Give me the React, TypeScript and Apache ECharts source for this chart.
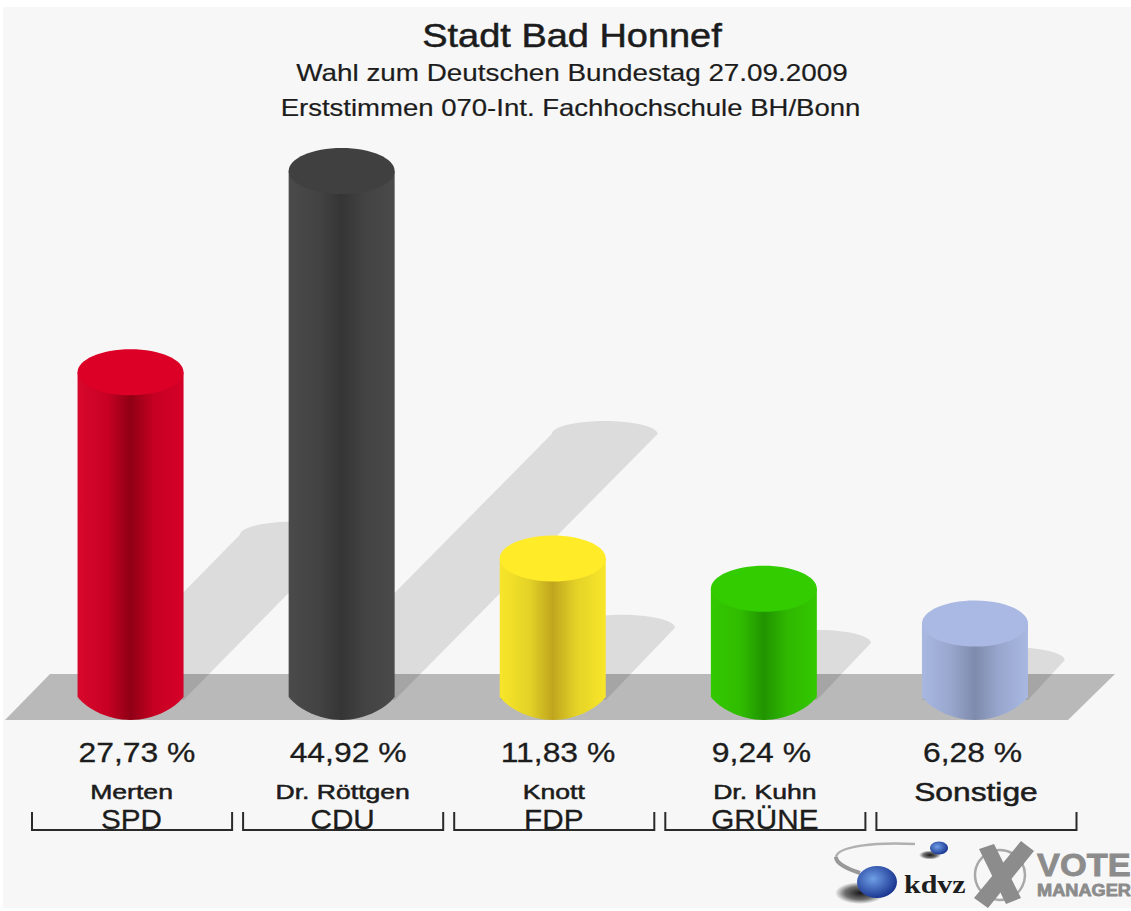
import React, { useEffect, useRef } from "react";
import * as echarts from "echarts";

const titleLines = ["Stadt Bad Honnef", "Wahl zum Deutschen Bundestag 27.09.2009", "Erststimmen 070-Int. Fachhochschule BH/Bonn"];
const candidates = ["Merten", "Dr. Röttgen", "Knott", "Dr. Kuhn", "Sonstige"];
const parties = ["SPD", "CDU", "FDP", "GRÜNE", ""];
const shares = [27.73, 44.92, 11.83, 9.24, 6.28];
const capColors = ["#dc0027", "#404040", "#ffeb28", "#33cc00", "#a9b9e3"];
const sideColors = [
  ["#d8082c", "#c80024", "#8f0015", "#c60022", "#d60028"],
  ["#4a4a4a", "#434343", "#353535", "#434343", "#4a4a4a"],
  ["#f8e62a", "#e4d227", "#bfa51e", "#e4d227", "#f8e62a"],
  ["#33c800", "#30bc00", "#219400", "#2fb800", "#33c800"],
  ["#a8b8e1", "#98a6cd", "#7e8bac", "#98a6cd", "#a8b8e1"],
];

const FONT = "Liberation Sans";
const RADIUS = 53;
const CAP_RY = 23;
const SHADOW_RY = 13;

function sideGradient(colors: string[]) {
  const stops = [0, 0.28, 0.5, 0.72, 1];
  return new echarts.graphic.LinearGradient(0, 0, 1, 0, colors.map((color, i) => ({ offset: stops[i], color })));
}

function bottomCurve(cx: number, yBase: number) {
  const pts: number[][] = [];
  for (let k = 0; k <= 24; k++) {
    const u = -1 + k / 12;
    pts.push([cx + u * RADIUS, yBase + CAP_RY * Math.pow(1 - u * u, 0.85)]);
  }
  return pts;
}

function renderShadow(params: any, api: any) {
  const [cx, yTop] = api.coord([api.value(0), api.value(1)]);
  const yBase = api.coord([api.value(0), 0])[1];
  const s = (yBase - yTop) / 2;
  const pts: number[][] = [[cx - RADIUS, yBase + 3]];
  for (let k = 0; k <= 24; k++) {
    const a = Math.PI - (k / 24) * Math.PI;
    pts.push([cx + s + RADIUS * Math.cos(a), yBase - s - SHADOW_RY * Math.sin(a)]);
  }
  pts.push([cx + RADIUS, yBase + 3]);
  return { type: "polygon", shape: { points: pts }, style: { fill: "rgba(0,0,0,0.105)" } };
}

function renderCylinder(params: any, api: any) {
  const i = params.dataIndex;
  const [cx, yTop] = api.coord([api.value(0), api.value(1)]);
  const yBase = api.coord([api.value(0), 0])[1];
  const pts = [[cx - RADIUS, yTop], ...bottomCurve(cx, yBase), [cx + RADIUS, yTop]];
  return {
    type: "group",
    children: [
      { type: "polygon", shape: { points: pts }, style: { fill: sideGradient(sideColors[i]) } },
      { type: "ellipse", shape: { cx, cy: yTop, rx: RADIUS, ry: CAP_RY }, style: { fill: capColors[i] } },
    ],
  };
}

function label(text: string, x: number, y: number, fontSize: number, scaleX: number, align = "center", weight = 0) {
  return {
    type: "text",
    x,
    y,
    scaleX,
    style: {
      text,
      fontSize,
      fontFamily: FONT,
      fill: "#1c1c1c",
      stroke: weight > 0 ? "#1c1c1c" : "none",
      lineWidth: weight,
      align,
      textAlign: align,
      verticalAlign: "middle",
      textVerticalAlign: "middle",
    },
  };
}

function renderLabels(params: any, api: any) {
  const i = params.dataIndex;
  const [cx] = api.coord([api.value(0), api.value(1)]);
  const yBase = api.coord([api.value(0), 0])[1];
  const band = api.size([1, 0])[0];
  const pct = shares[i].toFixed(2).replace(".", ",") + " %";
  const bx = cx + 1.5;
  const half = band / 2 - 5.5;
  const isOther = parties[i] === "";
  const children: any[] = [
    label(pct, cx - 52, yBase + 55, 27, 1.18, "left", 0.3),
    label(candidates[i], cx + 1, yBase + 95.5, isOther ? 25 : 20, isOther ? 1.27 : 1.33, "center", 0.5),
    {
      type: "polyline",
      shape: { points: [[bx - half, yBase + 115], [bx - half, yBase + 133], [bx + half, yBase + 133], [bx + half, yBase + 115]] },
      style: { stroke: "#2a2a2a", lineWidth: 2, fill: "none" },
    },
  ];
  if (!isOther) children.push(label(parties[i], cx + 1, yBase + 122, 28, 1.06, "center", 0.3));
  return { type: "group", children };
}

function grayText(text: string, x: number, y: number, fontSize: number, scaleX: number) {
  return {
    type: "text",
    x,
    y,
    scaleX,
    style: { text, fontSize, fontFamily: FONT, fontWeight: "bold", fill: "#8c8c8c", stroke: "#8c8c8c", lineWidth: 0.8, align: "left", textAlign: "left", verticalAlign: "middle", textVerticalAlign: "middle" },
  };
}

function radial(inner: string, outer: string) {
  return new echarts.graphic.RadialGradient(0.4, 0.4, 0.65, [
    { offset: 0, color: inner },
    { offset: 1, color: outer },
  ]);
}

function softShadow() {
  return new echarts.graphic.RadialGradient(0.5, 0.5, 0.5, [
    { offset: 0, color: "rgba(0,0,0,0.9)" },
    { offset: 0.6, color: "rgba(0,0,0,0.55)" },
    { offset: 1, color: "rgba(0,0,0,0)" },
  ]);
}

const titleSpecs = [
  { y: 36, size: 33, sx: 1.15, x: 572, w: 0.5 },
  { y: 73, size: 24, sx: 1.16, x: 572, w: 0.2 },
  { y: 108, size: 24, sx: 1.147, x: 570.5, w: 0.2 },
];

const decor: any[] = [
  { type: "rect", z: 0, shape: { x: 3, y: 7, width: 1128, height: 901 }, style: { fill: "#f7f7f7" } },
  { type: "polygon", z: 0, shape: { points: [[5, 720], [50, 674], [1115, 674], [1068, 720]] }, style: { fill: "#b9b9b9" } },
  ...titleLines.map((text, i) => ({
    type: "text",
    z: 5,
    x: titleSpecs[i].x,
    y: titleSpecs[i].y,
    scaleX: titleSpecs[i].sx,
    style: { text, fontSize: titleSpecs[i].size, fontFamily: FONT, fill: "#1c1c1c", stroke: "#1c1c1c", lineWidth: titleSpecs[i].w, align: "center", textAlign: "center", verticalAlign: "middle", textVerticalAlign: "middle" },
  })),
  // kdvz logo
  { type: "bezierCurve", z: 5, shape: { x1: 915, y1: 844, cpx1: 875, cpy1: 842, cpx2: 838, cpy2: 846, x2: 836, y2: 857 }, style: { stroke: "#b0b0b0", lineWidth: 2.5, fill: "none" } },
  { type: "bezierCurve", z: 5, shape: { x1: 836, y1: 857, cpx1: 836, cpy1: 864, cpx2: 848, cpy2: 869, x2: 860, y2: 873 }, style: { stroke: "#989898", lineWidth: 4, fill: "none" } },
  { type: "ellipse", z: 5, shape: { cx: 860, cy: 893, rx: 25, ry: 11 }, style: { fill: softShadow() } },
  { type: "ellipse", z: 5, shape: { cx: 877, cy: 882, rx: 20, ry: 16 }, style: { fill: radial("#6f9fe6", "#16308c") } },
  { type: "ellipse", z: 5, shape: { cx: 930, cy: 855, rx: 11, ry: 4.5 }, style: { fill: softShadow() } },
  { type: "ellipse", z: 5, shape: { cx: 939, cy: 848, rx: 9, ry: 6.5 }, style: { fill: radial("#6f9fe6", "#16308c") } },
  {
    type: "text",
    z: 5,
    x: 904,
    y: 884,
    scaleX: 1.2,
    style: { text: "kdvz", fontSize: 25, fontWeight: "bold", fontFamily: "Liberation Serif", fill: "#1e1e1e", align: "left", textAlign: "left", verticalAlign: "middle", textVerticalAlign: "middle" },
  },
  // Vote Manager logo
  { type: "circle", z: 5, shape: { cx: 1000, cy: 875, r: 25 }, style: { fill: "none", stroke: "#a8a8a8", lineWidth: 2.5 } },
  { type: "polygon", z: 5, shape: { points: [[1021, 841], [1034, 851], [988, 908], [974, 898]] }, style: { fill: "#8c8c8c" } },
  { type: "polygon", z: 5, shape: { points: [[979, 849], [994, 844], [1021, 898], [1006, 904]] }, style: { fill: "#8c8c8c" } },
  { ...grayText("VOTE", 1037, 865, 31, 1.11), z: 5 },
  { ...grayText("MANAGER", 1037, 890, 17, 1.07), z: 5 },
];

export default function App() {
  const ref = useRef<HTMLDivElement>(null);
  useEffect(() => {
    const chart = echarts.init(ref.current!, undefined, { renderer: "svg" });
    const seriesData = shares.map((v, i) => [i, v]);
    chart.setOption({
      animation: false,
      backgroundColor: "#ffffff",
      grid: { left: 25, top: 111.5, width: 1055.5, height: 585.5 },
      xAxis: { type: "category", data: candidates, show: false },
      yAxis: { type: "value", min: 0, max: 50, show: false },
      graphic: decor,
      series: [
        { type: "custom", z: 1, data: seriesData, renderItem: renderShadow, silent: true, clip: false },
        { type: "custom", z: 2, data: seriesData, renderItem: renderCylinder, silent: true, clip: false },
        { type: "custom", z: 3, data: seriesData, renderItem: renderLabels, silent: true, clip: false },
      ],
    });
    return () => chart.dispose();
  }, []);
  return <div ref={ref} style={{ position: "absolute", left: 0, top: 0, width: 1131, height: 911 }} />;
}
